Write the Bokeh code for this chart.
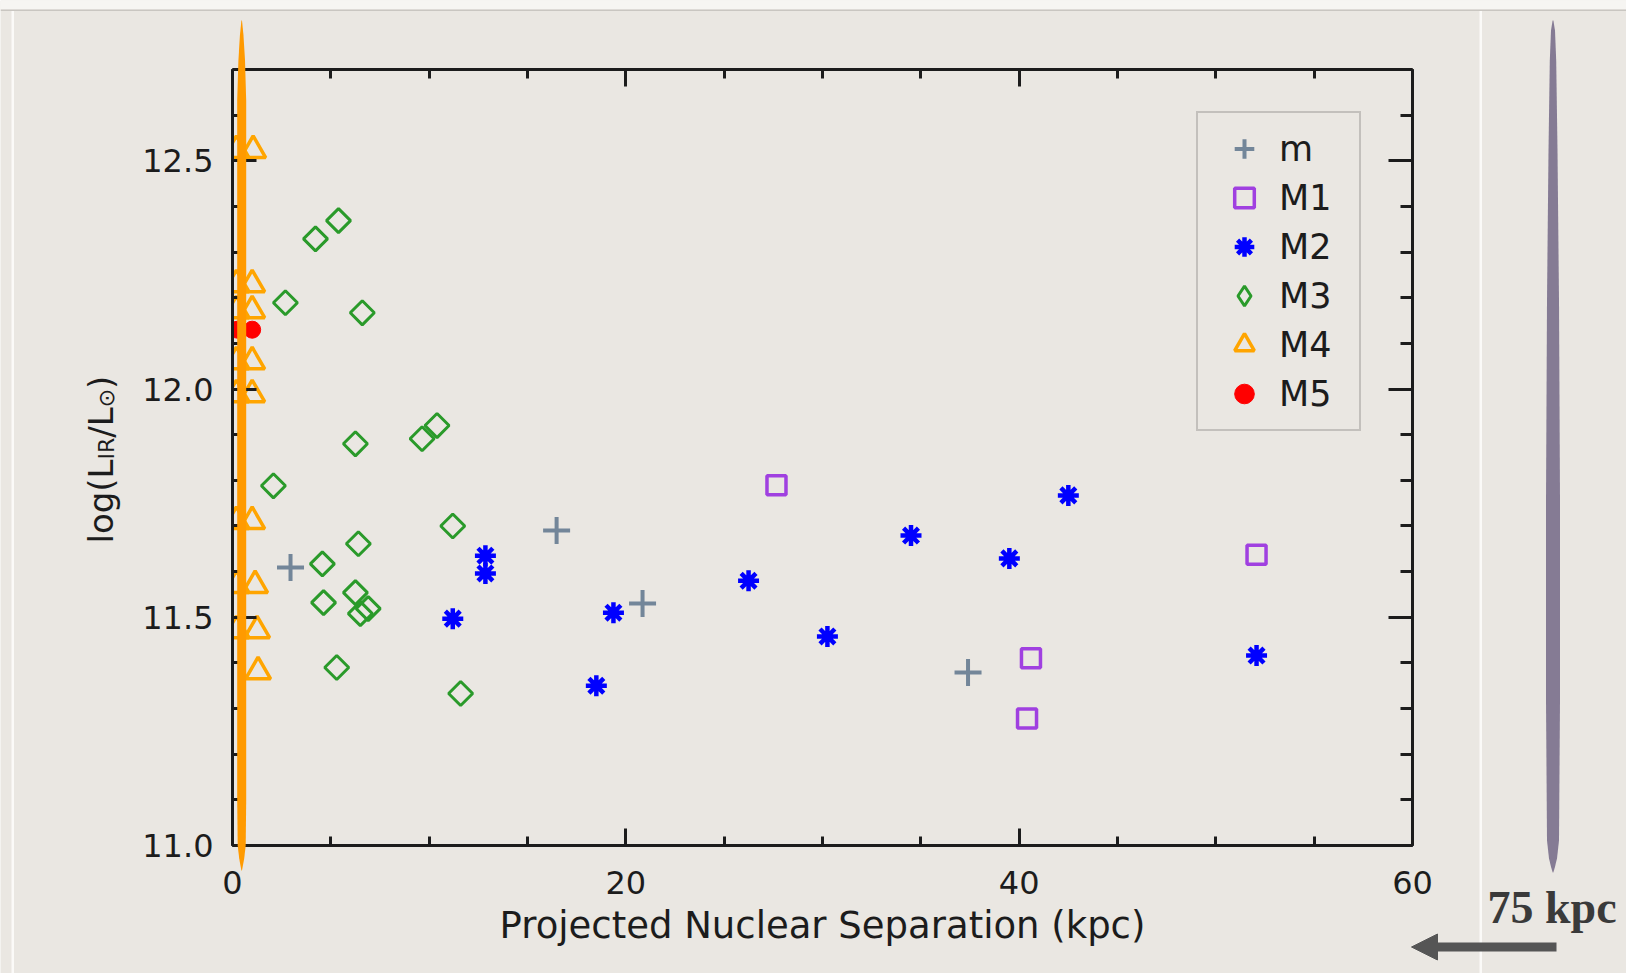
import math
from bokeh.plotting import figure
from bokeh.models import (Range1d, LinearAxis, SingleIntervalTicker, PrintfTickFormatter,
                          CustomJSTickFormatter, Legend, LegendItem, PolyAnnotation, Label,
                          Arrow, NormalHead)
from bokeh.embed import file_html
from bokeh.resources import INLINE

# ---------------- data ----------------
m_x = [2.95, 16.48, 20.85, 37.4]
m_y = [11.609, 11.69, 11.53, 11.379]

M1_x = [27.66, 40.6, 40.4, 52.07]
M1_y = [11.789, 11.41, 11.278, 11.637]

M2_x = [11.2, 12.86, 12.86, 18.5, 19.37, 26.24, 30.25, 34.5, 39.5, 42.5, 52.07]
M2_y = [11.497, 11.635, 11.596, 11.35, 11.51, 11.58, 11.458, 11.679, 11.629, 11.767, 11.416]

M3_x = [4.22, 5.39, 2.69, 6.6, 2.08, 6.25, 9.64, 10.4, 11.2, 6.4, 4.57, 4.63, 6.25, 6.9, 6.5, 5.3, 11.6]
M3_y = [12.329, 12.369, 12.189, 12.167, 11.788, 11.880, 11.891, 11.920, 11.70, 11.661,
        11.617, 11.532, 11.554, 11.519, 11.508, 11.39, 11.333]

M4_x = [1.05, 1.0, 1.0, 1.0, 1.0, 1.0, 1.15, 1.25, 1.3,
        0.2, 0.2, 0.2, 0.2, 0.2, 0.2, 0.2, 0.2]
M4_y = [12.523, 12.229, 12.172, 12.060, 11.988, 11.710, 11.570, 11.471, 11.381,
        12.523, 12.229, 12.172, 12.060, 11.988, 11.710, 11.570, 11.471]

M5_x = [0.25, 1.0]
M5_y = [12.13, 12.13]

series_labels = ["m", "M1", "M2", "M3", "M4", "M5"]
x_axis_range = (0.0, 60.0)
y_axis_range = (11.0, 12.7)
x_ticks_major = 20
y_ticks_major = 0.5

# ---------------- styling / layout ----------------
BG = "#eae7e2"
INK = "#1c1c1c"
W, H = 1626, 973
FL, FR, FT, FB = 232, 1412, 69, 845          # pixel box of the plotted axes
X0, X1 = x_axis_range
Y0, Y1 = y_axis_range
XS = (FR - FL) / (X1 - X0)                     # px per kpc
YS = (FB - FT) / (Y1 - Y0)                     # px per dex


def px_x(px):
    return X0 + (px - FL) / XS


def px_y(py):
    return Y0 + (FB - py) / YS


# The canvas frame covers the whole page; the axes are pinned to the plot box.
p = figure(width=W, height=H, x_range=Range1d(px_x(0), px_x(W)), y_range=Range1d(px_y(H), px_y(0)),
           x_axis_type=None, y_axis_type=None, output_backend="svg", toolbar_location=None,
           min_border_left=0, min_border_right=0, min_border_top=0, min_border_bottom=0)
p.background_fill_color = BG
p.border_fill_color = BG
p.outline_line_color = None
p.title.visible = False
p.xgrid.visible = False
p.ygrid.visible = False
# off-screen range used only by the legend key of the diamond series
p.extra_x_ranges = {"key": Range1d(-1000.0, -999.0)}


def style_axis(ax, major_in, minor_in):
    ax.axis_line_width = 3
    ax.axis_line_color = INK
    ax.major_tick_in = major_in
    ax.major_tick_out = 0
    ax.minor_tick_in = minor_in
    ax.minor_tick_out = 0
    ax.major_tick_line_width = 3
    ax.minor_tick_line_width = 3
    ax.major_tick_line_color = INK
    ax.minor_tick_line_color = INK
    ax.major_label_text_font = "DejaVu Sans"
    ax.major_label_text_font_size = "32px"
    ax.major_label_text_color = INK


xt = SingleIntervalTicker(interval=x_ticks_major, num_minor_ticks=4)
yt = SingleIntervalTicker(interval=y_ticks_major, num_minor_ticks=5)

bottom = LinearAxis(ticker=xt, fixed_location=Y0, bounds=(X0, X1))
style_axis(bottom, 17, 9)
bottom.major_label_standoff = 25
bottom.axis_label = "Projected Nuclear Separation (kpc)"
bottom.axis_label_text_font = "DejaVu Sans"
bottom.axis_label_text_font_size = "37px"
bottom.axis_label_text_font_style = "normal"
bottom.axis_label_text_color = INK
bottom.axis_label_standoff = 7
p.add_layout(bottom, "below")

top = LinearAxis(ticker=xt, fixed_location=Y1, bounds=(X0, X1),
                 formatter=CustomJSTickFormatter(code="return ''"))
style_axis(top, 17, 9)
top.major_label_text_font_size = "0px"
p.add_layout(top, "above")

left = LinearAxis(ticker=yt, fixed_location=X0, bounds=(Y0, Y1),
                  formatter=PrintfTickFormatter(format="%.1f"))
style_axis(left, 24, 12)
left.major_label_standoff = 19
p.add_layout(left, "left")

right = LinearAxis(ticker=yt, fixed_location=X1, bounds=(Y0, Y1),
                   formatter=CustomJSTickFormatter(code="return ''"))
style_axis(right, 24, 12)
right.major_label_text_font_size = "0px"
p.add_layout(right, "right")

# ---------------- data glyphs ----------------
C_M, C_M1, C_M2, C_M3, C_M4, C_M5 = "#738699", "#a040e0", "#0000ff", "#2a9a2a", "#ffa500", "#ff0000"
r_m = p.scatter(m_x, m_y, marker="cross", size=27, line_color=C_M, line_width=4)
r_m1 = p.scatter(M1_x, M1_y, marker="square", size=19, line_color=C_M1,
                 fill_color=None, line_width=3.5)
r_m2 = p.scatter(M2_x, M2_y, marker="asterisk", size=21, line_color=C_M2, line_width=4.5)
r_m3 = p.scatter(M3_x, M3_y, marker="square", angle=math.pi / 4, size=17,
                 line_color=C_M3, fill_color=None, line_width=3)
r_m4 = p.scatter(M4_x, M4_y, marker="triangle", size=25, line_color=C_M4,
                 fill_color=None, line_width=3.5)
r_m5 = p.scatter(M5_x, M5_y, marker="circle", size=17, fill_color=C_M5, line_color=C_M5)

# legend key for the diamonds (legend glyphs ignore the marker angle); drawn off-screen
r_m3_key = p.scatter(M3_x, M3_y, marker="diamond", line_color=C_M3, fill_color=None,
                     line_width=3, x_range_name="key")

# points hidden behind the axis in the reference are cut at the axis line
p.add_layout(PolyAnnotation(xs=[px_x(218), px_x(230.5), px_x(230.5), px_x(218)],
                            ys=[px_y(120), px_y(120), px_y(660), px_y(660)],
                            fill_color=BG, fill_alpha=1.0, line_color=None))

key_renderers = [r_m, r_m1, r_m2, r_m3_key, r_m4, r_m5]
LEG_TOP, LEG_LEFT = 114, 1196
legend = Legend(items=[LegendItem(label=l, renderers=[r]) for l, r in zip(series_labels, key_renderers)],
                location=(LEG_LEFT, H - LEG_TOP - 317), orientation="vertical", margin=0,
                padding=11, spacing=0, glyph_width=70, glyph_height=49,
                label_standoff=0, label_width=69, label_height=49,
                label_text_font="DejaVu Sans", label_text_font_size="35px",
                label_text_color=INK, border_line_color="#9c9a96", border_line_width=2,
                background_fill_color=BG, background_fill_alpha=1.0)
p.add_layout(legend)

# ---------------- slide decorations ----------------
def stroke(cx, profile, color):
    xs = [px_x(cx - hw) for (py, hw) in profile] + [px_x(cx + hw) for (py, hw) in reversed(profile)]
    ys = [px_y(py) for (py, hw) in profile] + [px_y(py) for (py, hw) in reversed(profile)]
    return PolyAnnotation(xs=xs, ys=ys, fill_color=color, fill_alpha=1.0, line_color=None)


def rect(x0, x1, y0, y1, color):
    return PolyAnnotation(xs=[px_x(x0), px_x(x1), px_x(x1), px_x(x0)],
                          ys=[px_y(y0), px_y(y0), px_y(y1), px_y(y1)],
                          fill_color=color, fill_alpha=1.0, line_color=None)


p.add_layout(rect(0, W, 0, 9, "#f6f5f2"))
p.add_layout(rect(0, W, 9, 10.5, "#c9c6c1"))
p.add_layout(rect(11, 13.5, 10.5, H, "#fbfaf8"))
p.add_layout(rect(1479, 1481.5, 10.5, H, "#fbfaf8"))

orange_profile = [(20, 0.3), (35, 1.8), (60, 3.3), (100, 4.5), (800, 4.5), (845, 4.0),
                  (858, 2.5), (870, 0.3)]
p.add_layout(stroke(241.2, orange_profile, "#ff9a00"))

purple_profile = [(20, 0.4), (30, 2.0), (60, 3.2), (150, 4.5), (300, 6.0), (500, 7.0),
                  (700, 7.0), (840, 6.0), (858, 4.0), (867, 1.8), (872, 0.3)]
p.add_layout(stroke(1552.5, purple_profile, "#857b94"))

ARROW_C = "#555555"
p.add_layout(Arrow(end=None, x_start=px_x(1556), y_start=px_y(946.5), x_end=px_x(1434),
                   y_end=px_y(946.5), line_color=ARROW_C, line_width=9))
p.add_layout(Arrow(end=NormalHead(size=26, fill_color=ARROW_C, line_color=ARROW_C, line_width=1),
                   x_start=px_x(1445), y_start=px_y(946.5), x_end=px_x(1411), y_end=px_y(946.5),
                   line_alpha=0.0, line_width=1))

p.add_layout(Label(x=px_x(1487), y=px_y(907), text="75 kpc", text_font="Liberation Serif",
                   text_font_size="46px", text_font_style="bold", text_color="#3a3a3a",
                   text_align="left", text_baseline="alphabetic"))

# ---------------- y-axis label: log(L_IR / L_sun) ----------------
YL_BASE = 100
pieces = [("log(L", 34, 0, 543.0),
          ("IR", 22, 6, 459.0),
          ("/L", 34, 0, 437.2),
          ("\u2299", 22, 6, 406.8),
          (")", 34, 0, 388.4)]
for txt, fs, shift, start in pieces:
    p.add_layout(Label(x=px_x(YL_BASE + shift), y=px_y(start), text=txt, angle=math.pi / 2,
                       text_font="DejaVu Sans", text_font_size=f"{fs}px", text_color=INK,
                       text_align="left", text_baseline="alphabetic"))

open("out.html", "w").write(file_html(p, INLINE))
